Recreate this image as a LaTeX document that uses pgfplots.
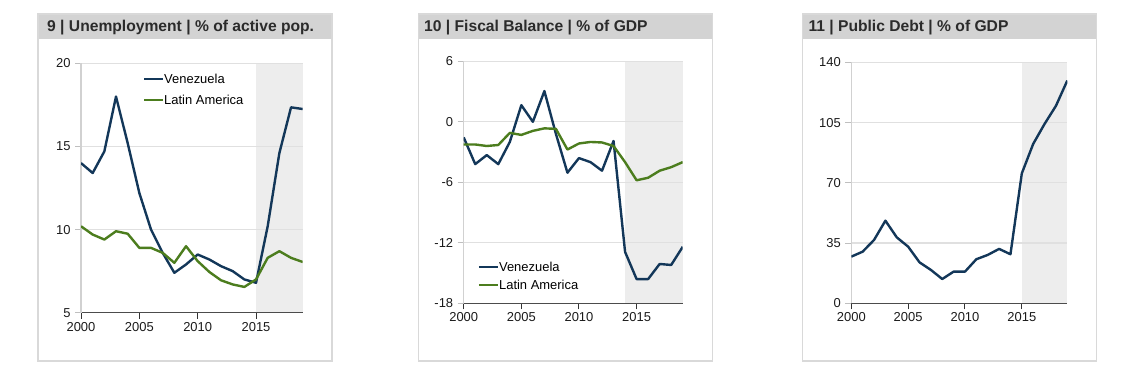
\documentclass[border=0pt]{standalone}
\usepackage{pgfplots}
\pgfplotsset{compat=1.18}
\usepackage{fontspec}
\setmainfont{Liberation Sans}
\definecolor{navy}{HTML}{133759}
\definecolor{lagreen}{HTML}{4C7D1E}
\definecolor{hdr}{HTML}{D3D3D3}
\definecolor{boxc}{HTML}{D9D9D9}
\definecolor{shadec}{HTML}{EDEDED}
\definecolor{gridc}{HTML}{E0E0E0}
\definecolor{txt}{HTML}{1A1A1A}
\definecolor{ttl}{HTML}{2B2B2B}

\pgfplotsset{
 panel/.style={
  scale only axis, set layers,
  anchor=south west,
  xmin=2000, xmax=2019, xtick={2000,2005,2010,2015},
  /pgf/number format/1000 sep={},
  /pgf/number format/assume math mode=true,
  ticklabel style={font=\fontsize{13}{13}\selectfont, text=txt},
  yticklabel style={xshift=-1bp},
  axis x line*=bottom, axis y line*=left,
  x axis line style={draw=black!70, line width=1.5bp, -},
  y axis line style={draw=black!18, line width=1.5bp, -},
  tick align=outside, major tick length=6bp,
  xtick style={draw=black!80, line width=1bp},
  ytick style={draw=black!25, line width=1bp},
  ymajorgrids, grid style={draw=gridc, line width=1.2bp},
  legend style={draw=none, fill=none, inner sep=0pt,
    font=\fontsize{13}{13}\selectfont, cells={anchor=west},
    nodes={inner xsep=0pt, inner ysep=1bp, text height=9.5bp, text depth=0pt}},
  legend image code/.code={\draw[##1] (0bp,0bp) -- (19bp,0bp);},
  every axis plot/.append style={line width=2.4bp, line join=round},
 },
 shadebox/.style={draw=none, fill=shadec, forget plot, on layer=axis background},
}

\pgfplotstableread{
year ven lat
2000 14.0 10.2
2001 13.4 9.7
2002 14.7 9.4
2003 18.0 9.9
2004 15.2 9.75
2005 12.2 8.9
2006 10.0 8.9
2007 8.6 8.6
2008 7.4 8.0
2009 7.9 9.0
2010 8.5 8.1
2011 8.2 7.45
2012 7.8 6.95
2013 7.5 6.7
2014 7.0 6.55
2015 6.8 7.0
2016 10.2 8.3
2017 14.6 8.7
2018 17.35 8.3
2019 17.25 8.05
}\unemp

\pgfplotstableread{
year ven lat
2000 -1.55 -2.25
2001 -4.2 -2.25
2002 -3.3 -2.4
2003 -4.2 -2.3
2004 -2.0 -1.1
2005 1.65 -1.3
2006 0.0 -0.9
2007 3.05 -0.65
2008 -1.2 -0.7
2009 -5.05 -2.75
2010 -3.6 -2.15
2011 -4.0 -2.0
2012 -4.85 -2.05
2013 -1.9 -2.4
2014 -12.9 -4.0
2015 -15.6 -5.8
2016 -15.6 -5.55
2017 -14.1 -4.85
2018 -14.2 -4.5
2019 -12.4 -4.0
}\fiscal

\pgfplotstableread{
year ven
2000 27.1
2001 30.0
2002 36.8
2003 48.0
2004 38.3
2005 32.9
2006 23.8
2007 19.4
2008 14.1
2009 18.4
2010 18.4
2011 25.6
2012 28.1
2013 31.6
2014 28.5
2015 75.5
2016 92.6
2017 104.2
2018 114.7
2019 129.4
}\debt

\begin{document}
\begin{tikzpicture}
\path (0bp,0bp) rectangle (1135bp,368bp);

% panel frames
\fill[hdr] (38bp,328.7bp) rectangle (332bp,354bp);
\draw[boxc, line width=1.5bp] (38bp,7bp) rectangle (332bp,354bp);
\fill[hdr] (418.3bp,328.7bp) rectangle (712.7bp,354bp);
\draw[boxc, line width=1.5bp] (418.3bp,7bp) rectangle (712.7bp,354bp);
\fill[hdr] (802.7bp,328.7bp) rectangle (1096.7bp,354bp);
\draw[boxc, line width=1.5bp] (802.7bp,7bp) rectangle (1096.7bp,354bp);

\node[anchor=base west, inner sep=0pt, text=ttl, font=\fontsize{15.7}{18}\selectfont\bfseries] at (47bp,336.3bp) {9 | Unemployment | \% of active pop.};
\node[anchor=base west, inner sep=0pt, text=ttl, font=\fontsize{15.7}{18}\selectfont\bfseries] at (424bp,336.3bp) {10 | Fiscal Balance | \% of GDP};
\node[anchor=base west, inner sep=0pt, text=ttl, font=\fontsize{15.7}{18}\selectfont\bfseries] at (808.3bp,336.3bp) {11 | Public Debt | \% of GDP};

% Panel 9
\begin{axis}[panel, at={(81bp,55.3bp)}, width=221.7bp, height=249.4bp,
  ymin=5, ymax=20, ytick={5,10,15,20},
  legend style={at={(0.278,0.894)}, anchor=west, row sep=9.5bp}]
\addplot[shadebox] coordinates {(2015,5) (2015,20) (2019,20) (2019,5)} -- cycle;
\addplot[navy] table[x=year,y=ven] {\unemp};
\addplot[lagreen] table[x=year,y=lat] {\unemp};
\legend{Venezuela,Latin America}
\end{axis}

% Panel 10
\begin{axis}[panel, at={(463.7bp,64.7bp)}, width=219bp, height=242bp,
  ymin=-18, ymax=6, ytick={-18,-12,-6,0,6},
  legend style={at={(0.063,0.113)}, anchor=west, row sep=6.8bp}]
\addplot[shadebox] coordinates {(2014,-18) (2014,6) (2019,6) (2019,-18)} -- cycle;
\addplot[navy] table[x=year,y=ven] {\fiscal};
\addplot[lagreen] table[x=year,y=lat] {\fiscal};
\legend{Venezuela,Latin America}
\end{axis}

% Panel 11
\begin{axis}[panel, at={(851.3bp,64.7bp)}, width=216bp, height=241bp,
  ymin=0, ymax=140, ytick={0,35,70,105,140}]
\addplot[shadebox] coordinates {(2015,0) (2015,140) (2019,140) (2019,0)} -- cycle;
\addplot[navy] table[x=year,y=ven] {\debt};
\end{axis}
\end{tikzpicture}
\end{document}
